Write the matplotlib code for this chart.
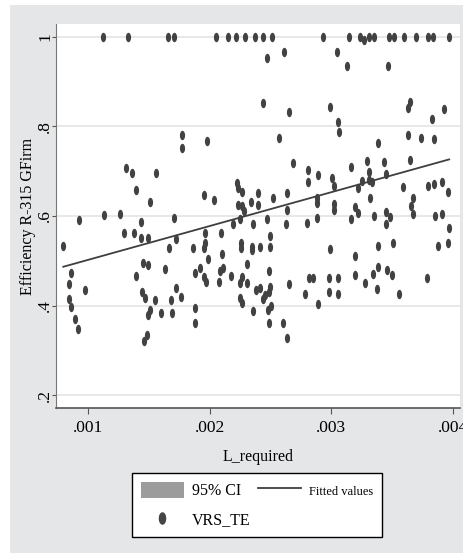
import matplotlib
matplotlib.use("Agg")
import matplotlib.pyplot as plt
import numpy as np
from matplotlib.lines import Line2D
from matplotlib.patches import Patch, Rectangle
from matplotlib.path import Path

# L_required (in thousandths) and VRS_TE
l_required_k = [
    1.121, 1.331, 1.655, 1.710, 2.053, 2.149, 2.217, 2.291, 2.373, 2.442,
    2.511, 2.930, 3.149, 3.237, 3.272, 3.313, 3.354, 3.473, 3.519, 3.601,
    3.697, 3.794, 3.834, 3.966, 2.470, 2.614, 3.048, 3.130, 3.470, 2.442,
    2.653, 2.990, 3.053, 3.064, 3.648, 3.634, 3.930, 3.831, 3.634, 3.736,
    3.845, 3.387, 3.292, 3.437, 3.163, 3.648, 3.009, 3.023, 3.313, 3.313,
    3.251, 3.218, 3.338, 3.448, 3.593, 3.799, 3.845, 3.909, 3.958, 3.319,
    3.026, 3.026, 3.196, 3.223, 3.160, 3.354, 3.448, 3.484, 3.448, 3.675,
    3.654, 3.675, 3.854, 3.909, 3.969, 2.990, 3.387, 3.511, 3.881, 3.958,
    1.771, 1.771, 1.313, 1.362, 1.559, 1.395, 1.512, 0.924, 1.129, 1.266,
    1.438, 1.705, 1.294, 1.376, 1.438, 1.493, 1.724, 0.797, 1.669, 1.861,
    1.976, 2.568, 2.683, 2.812, 2.812, 2.889, 2.223, 2.231, 2.264, 1.954,
    2.039, 2.396, 2.338, 2.524, 2.634, 2.236, 2.269, 2.396, 2.285, 2.881,
    2.881, 2.639, 2.250, 2.470, 2.190, 2.354, 2.628, 2.803, 2.881, 1.962,
    2.094, 2.497, 1.962, 2.258, 2.258, 2.346, 2.414, 2.497, 0.860, 0.841,
    0.978, 0.846, 0.860, 0.893, 0.920, 1.455, 1.491, 1.633, 1.395, 1.442,
    1.471, 1.551, 1.510, 1.491, 1.600, 1.688, 1.683, 1.724, 1.765, 1.483,
    1.463, 1.882, 1.882, 1.882, 1.954, 2.351, 2.104, 1.989, 2.310, 1.921,
    1.954, 1.968, 2.086, 2.113, 2.080, 2.174, 2.264, 2.250, 2.305, 2.488,
    2.379, 2.414, 2.497, 2.456, 2.442, 2.488, 2.250, 2.264, 2.354, 2.483,
    2.505, 2.653, 2.785, 2.817, 2.853, 2.889, 2.491, 2.606, 2.634, 2.984,
    2.984, 3.196, 3.053, 3.053, 3.196, 3.278, 3.346, 3.387, 3.456, 3.497,
    3.374, 3.560, 3.790,
]
vrs_te = [
    1.000, 1.000, 1.000, 1.000, 1.000, 1.000, 1.000, 1.000, 1.000, 1.000,
    1.000, 1.000, 1.000, 1.000, 0.993, 1.000, 1.000, 1.000, 1.000, 1.000,
    1.000, 1.000, 1.000, 1.000, 0.952, 0.966, 0.967, 0.936, 0.936, 0.852,
    0.833, 0.843, 0.811, 0.788, 0.855, 0.841, 0.838, 0.817, 0.781, 0.774,
    0.771, 0.762, 0.723, 0.721, 0.710, 0.725, 0.686, 0.667, 0.699, 0.680,
    0.679, 0.662, 0.677, 0.694, 0.664, 0.667, 0.672, 0.677, 0.654, 0.640,
    0.627, 0.613, 0.619, 0.606, 0.593, 0.600, 0.610, 0.597, 0.582, 0.640,
    0.622, 0.604, 0.600, 0.604, 0.573, 0.526, 0.534, 0.540, 0.534, 0.540,
    0.781, 0.753, 0.707, 0.697, 0.697, 0.658, 0.632, 0.590, 0.602, 0.604,
    0.586, 0.596, 0.561, 0.561, 0.550, 0.550, 0.548, 0.533, 0.528, 0.528,
    0.768, 0.775, 0.719, 0.703, 0.677, 0.692, 0.673, 0.662, 0.654, 0.648,
    0.636, 0.651, 0.632, 0.640, 0.651, 0.625, 0.622, 0.625, 0.612, 0.640,
    0.630, 0.613, 0.593, 0.593, 0.582, 0.582, 0.582, 0.584, 0.596, 0.563,
    0.561, 0.555, 0.539, 0.539, 0.529, 0.531, 0.531, 0.531, 0.472, 0.447,
    0.435, 0.415, 0.397, 0.370, 0.347, 0.494, 0.491, 0.482, 0.466, 0.431,
    0.416, 0.412, 0.390, 0.379, 0.383, 0.383, 0.412, 0.440, 0.418, 0.333,
    0.321, 0.472, 0.395, 0.362, 0.529, 0.524, 0.514, 0.504, 0.492, 0.483,
    0.464, 0.453, 0.477, 0.484, 0.453, 0.466, 0.463, 0.450, 0.450, 0.476,
    0.435, 0.440, 0.442, 0.423, 0.415, 0.431, 0.416, 0.405, 0.388, 0.390,
    0.400, 0.447, 0.425, 0.461, 0.461, 0.403, 0.362, 0.362, 0.328, 0.461,
    0.431, 0.511, 0.462, 0.425, 0.468, 0.450, 0.470, 0.487, 0.479, 0.468,
    0.438, 0.425, 0.461,
]

x_ticks = [0.001, 0.002, 0.003, 0.004]
x_tick_labels = [".001", ".002", ".003", ".004"]
y_ticks = [0.2, 0.4, 0.6, 0.8, 1.0]
y_tick_labels = [".2", ".4", ".6", ".8", "1"]


def capsule_marker() -> Path:
    """Tall oval marker like the Stata one."""
    t = np.linspace(0, 2 * np.pi, 40)
    verts = np.column_stack([0.55 * np.cos(t), np.sin(t)])
    return Path(verts, closed=True)


def display(x: np.ndarray, y: np.ndarray) -> None:
    """Scatter plus linear fit, saved to out.png."""
    plt.rcParams["font.family"] = ["Liberation Serif", "DejaVu Serif"]

    fig = plt.figure(figsize=(4.64, 5.53), dpi=100, facecolor="white")
    fig.patches.append(Rectangle((10 / 464, 0), 1, 548 / 553,
                                 transform=fig.transFigure,
                                 facecolor="#e5e6e8", edgecolor="none",
                                 zorder=-10))

    ax = fig.add_axes([56 / 464, 145 / 553, 404 / 464, 384 / 553])
    ax.set_facecolor("white")

    ax.set_xlim(0.000737, 0.004058)
    ax.set_ylim(0.171, 1.029)

    for yt in y_ticks:
        ax.axhline(yt, color="#e4e4e4", linewidth=1.2, zorder=0)

    marker = capsule_marker()
    ax.scatter(x, y, marker=marker, s=46, color="#424242",
               linewidths=0, zorder=3)

    slope, intercept = np.polyfit(x, y, 1)
    xs = np.array([x.min(), x.max()])
    ax.plot(xs, intercept + slope * xs, color="#3f3f3f",
            linewidth=1.3, zorder=4)

    for side in ("top", "right"):
        ax.spines[side].set_visible(False)
    ax.spines["left"].set_color("#777777")
    ax.spines["bottom"].set_color("#555555")
    ax.spines["bottom"].set_linewidth(1.2)

    ax.set_xticks(x_ticks)
    ax.set_xticklabels(x_tick_labels, fontsize=12.5)
    ax.set_yticks(y_ticks)
    ax.set_yticklabels(y_tick_labels, fontsize=12.5, rotation=90,
                       va="center")
    ax.tick_params(length=4, width=0.8, color="#555555")
    ax.tick_params(axis="x", pad=5)
    ax.tick_params(axis="y", length=3, pad=-1)

    ax.set_xlabel("L_required", fontsize=11.5, labelpad=9)
    ax.set_ylabel("Efficiency R-315 GFirm", fontsize=11.5, labelpad=1)

    handles = [
        Patch(facecolor="#9c9c9c", edgecolor="none"),
        Line2D([], [], linestyle="none", marker=marker, markersize=8,
               color="#454545"),
        Line2D([], [], color="#3f3f3f", linewidth=1.3),
    ]
    labels = ["95% CI", "VRS_TE", "Fitted values"]
    leg = fig.legend(handles, labels, ncol=2, loc="upper center",
                     bbox_to_anchor=(257 / 464, 1 - 465 / 553),
                     fontsize=11.5, frameon=True, fancybox=False,
                     edgecolor="black", framealpha=1, borderpad=0.55,
                     handlelength=2.7, handleheight=1.15, labelspacing=0.75,
                     columnspacing=0.45, handletextpad=0.5)
    leg.get_frame().set_linewidth(1.0)
    leg.get_texts()[2].set_fontsize(9)

    fig.savefig("out.png", dpi=100, facecolor=fig.get_facecolor())


def main() -> None:
    """Build arrays and draw."""
    x = np.array(l_required_k) / 1000
    y = np.array(vrs_te)
    display(x, y)


if __name__ == "__main__":
    main()
